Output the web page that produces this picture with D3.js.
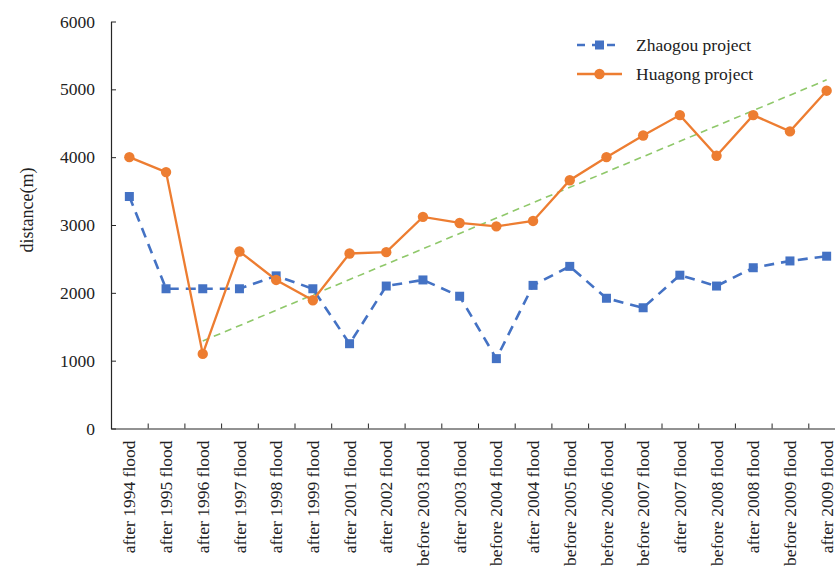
<!DOCTYPE html>
<html>
<head>
<meta charset="utf-8">
<script src="https://cdn.jsdelivr.net/npm/d3@7/dist/d3.min.js"></script>
<style>
  html, body { margin: 0; padding: 0; background: #fff; overflow: hidden; }
  svg { display: block; font-family: "Liberation Serif", "Times New Roman", serif; }
</style>
</head>
<body>
<svg id="chart" width="835" height="568"></svg>
<script>
// Survey stages along the x axis
const categories = [
  "after 1994 flood", "after 1995 flood", "after 1996 flood", "after 1997 flood",
  "after 1998 flood", "after 1999 flood", "after 2001 flood", "after 2002 flood",
  "before 2003 flood", "after 2003 flood", "before 2004 flood", "after 2004 flood",
  "before 2005 flood", "before 2006 flood", "before 2007 flood", "after 2007 flood",
  "before 2008 flood", "after 2008 flood", "before 2009 flood", "after 2009 flood"
];

// Distance (m) for each project
const zhaogou = [3420, 2060, 2060, 2060, 2250, 2060, 1250, 2100, 2190, 1950,
                 1030, 2110, 2390, 1920, 1780, 2260, 2100, 2370, 2470, 2540];
const huagong = [4000, 3780, 1100, 2610, 2190, 1890, 2580, 2600, 3120, 3030,
                 2980, 3060, 3660, 4000, 4320, 4620, 4020, 4620, 4380, 4980];

// Linear trend of the Huagong project from 1996 onwards (start / end)
const trendCategories = ["after 1996 flood", "after 2009 flood"];
const trendValues = [1290, 5140];

const yTicks = [0, 1000, 2000, 3000, 4000, 5000, 6000];

const seriesNames = ["Zhaogou project", "Huagong project"];

const svg = d3.select("#chart");

const plotLeft = 111, plotRight = 845, plotTop = 21.5, plotBottom = 428.5;
const fontSize = 17.5;

const x = d3.scaleBand().domain(categories).range([plotLeft, plotRight]).padding(0);
const xEdge = d3.scaleLinear().domain([0, categories.length]).range([plotLeft, plotRight]);
const y = d3.scaleLinear().domain([0, 6000]).range([plotBottom, plotTop]);
const cx = d => x(d) + x.bandwidth() / 2;

const axisColor = "#262626";
const blue = "#4472C4", orange = "#ED7D31", green = "#8FC86A";

// Y axis: ticks point into the plot
const yAxis = svg.append("g")
  .attr("transform", `translate(${plotLeft},0)`)
  .call(d3.axisLeft(y).tickValues(yTicks).tickSize(-5).tickPadding(16)
    .tickSizeOuter(0).tickFormat(d3.format("d")));
yAxis.select(".domain").attr("stroke", axisColor).attr("stroke-width", 1.2);
yAxis.selectAll(".tick line").attr("stroke", axisColor);
yAxis.selectAll(".tick text")
  .attr("fill", "#222").attr("font-size", fontSize)
  .attr("font-family", "Liberation Serif, serif");

// X axis: ticks at the band edges, pointing up
const xAxis = svg.append("g")
  .attr("transform", `translate(0,${plotBottom})`)
  .call(d3.axisBottom(xEdge).tickValues(d3.range(0, categories.length + 1))
    .tickSize(-5).tickSizeOuter(0).tickFormat(""));
xAxis.select(".domain").attr("stroke", axisColor).attr("stroke-width", 1.2);
xAxis.selectAll(".tick line").attr("stroke", axisColor);

// Category labels, rotated and reading bottom to top
svg.append("g").selectAll("text")
  .data(categories)
  .join("text")
  .attr("transform", d => `translate(${cx(d)},${plotBottom + 12}) rotate(-90)`)
  .attr("text-anchor", "end")
  .attr("dy", "0.35em")
  .attr("font-size", fontSize)
  .attr("fill", "#222")
  .text(d => d);

// Y axis title
svg.append("text")
  .attr("transform", "translate(27,210) rotate(-90)")
  .attr("text-anchor", "middle")
  .attr("dy", "0.35em")
  .attr("font-size", 18)
  .attr("fill", "#222")
  .text("distance(m)");

// Trend line
const line = d3.line().x(d => cx(d[0])).y(d => y(d[1]));
svg.append("path")
  .datum(trendCategories.map((c, i) => [c, trendValues[i]]))
  .attr("d", line)
  .attr("fill", "none")
  .attr("stroke", green)
  .attr("stroke-width", 1.6)
  .attr("stroke-dasharray", "7,5");

// Zhaogou series: dashed blue line with square markers
svg.append("path")
  .datum(categories.map((c, i) => [c, zhaogou[i]]))
  .attr("d", line)
  .attr("fill", "none")
  .attr("stroke", blue)
  .attr("stroke-width", 2.6)
  .attr("stroke-dasharray", "10,7");
svg.append("g").selectAll("rect")
  .data(categories.map((c, i) => [c, zhaogou[i]]))
  .join("rect")
  .attr("x", d => cx(d[0]) - 4.5)
  .attr("y", d => y(d[1]) - 4.5)
  .attr("width", 9).attr("height", 9)
  .attr("fill", blue);

// Huagong series: solid orange line with circle markers
svg.append("path")
  .datum(categories.map((c, i) => [c, huagong[i]]))
  .attr("d", line)
  .attr("fill", "none")
  .attr("stroke", orange)
  .attr("stroke-width", 2.3);
svg.append("g").selectAll("circle")
  .data(categories.map((c, i) => [c, huagong[i]]))
  .join("circle")
  .attr("cx", d => cx(d[0]))
  .attr("cy", d => y(d[1]))
  .attr("r", 5.2)
  .attr("fill", orange);

// Legend
const legend = svg.append("g");
const lx0 = 577, lx1 = 622, lmid = (lx0 + lx1) / 2;
const rows = [
  { name: seriesNames[0], y: 45, color: blue, dash: "8,7", marker: "square" },
  { name: seriesNames[1], y: 74, color: orange, dash: null, marker: "circle" }
];
rows.forEach(r => {
  legend.append("line")
    .attr("x1", lx0).attr("x2", lx1).attr("y1", r.y).attr("y2", r.y)
    .attr("stroke", r.color).attr("stroke-width", r.marker === "square" ? 2.6 : 2.3)
    .attr("stroke-dasharray", r.dash);
  if (r.marker === "square") {
    legend.append("rect").attr("x", lmid - 4.5).attr("y", r.y - 4.5)
      .attr("width", 9).attr("height", 9).attr("fill", r.color);
  } else {
    legend.append("circle").attr("cx", lmid).attr("cy", r.y).attr("r", 5.2).attr("fill", r.color);
  }
  legend.append("text")
    .attr("x", 636).attr("y", r.y).attr("dy", "0.35em")
    .attr("font-size", fontSize).attr("fill", "#222")
    .text(r.name);
});
</script>
</body>
</html>
